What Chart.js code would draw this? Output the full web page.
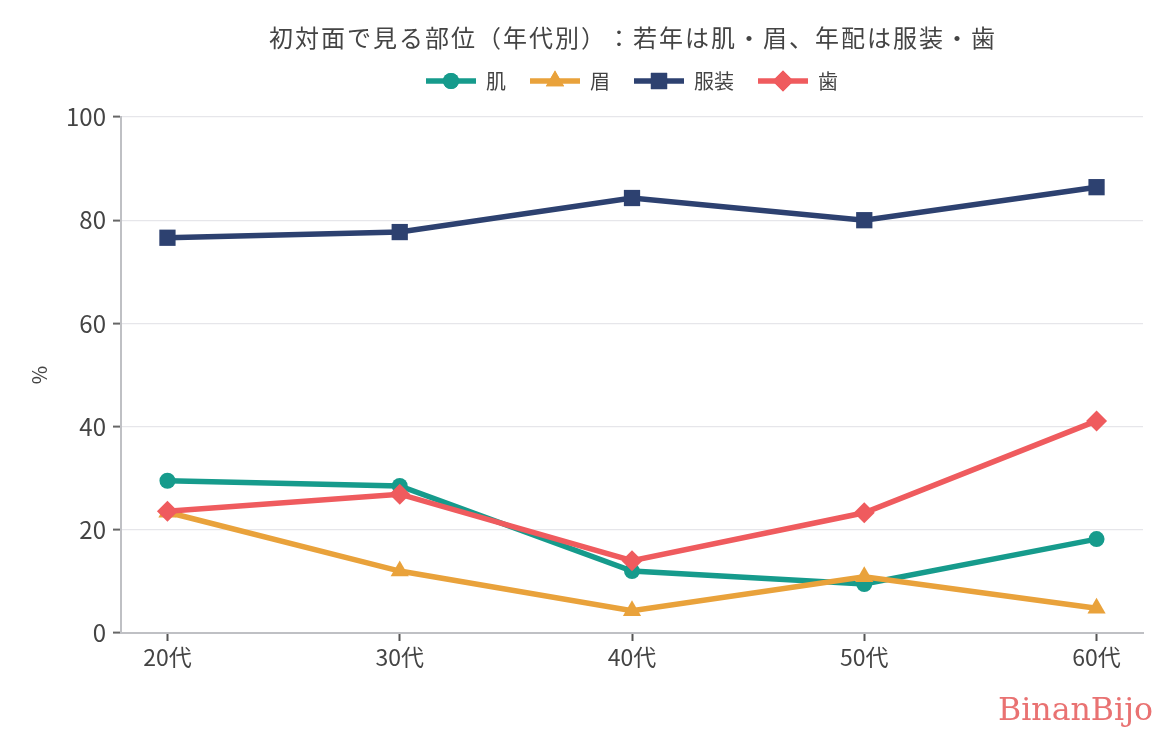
<!DOCTYPE html>
<html lang="ja">
<head>
<meta charset="utf-8">
<title>初対面で見る部位（年代別）</title>
<script src="https://cdn.jsdelivr.net/npm/chart.js@4.4.1/dist/chart.umd.min.js"></script>
<style>
  html, body { margin: 0; padding: 0; background: #ffffff; }
  #wrap { width: 1170px; height: 735px; }
</style>
</head>
<body>
<div id="wrap"><canvas id="c" width="1170" height="735"></canvas></div>
<script>
const titleText = '初対面で見る部位（年代別）：若年は肌・眉、年配は服装・歯';
const categories = ['20代', '30代', '40代', '50代', '60代'];
const seriesNames = ['肌', '眉', '服装', '歯'];
const skin    = [29.5, 28.5, 12.0, 9.5, 18.2];
const brow    = [23.4, 12.0, 4.3, 10.9, 4.8];
const clothes = [76.6, 77.7, 84.3, 80.0, 86.4];
const teeth   = [23.6, 26.9, 14.0, 23.3, 41.1];
const yTicks  = [0, 20, 40, 60, 80, 100];
const yTitle  = '%';
const watermark = 'BinanBijo';

const colors = ['#169b8c', '#e9a23b', '#2d4170', '#ef5b5e'];
const styles = ['circle', 'triangle', 'rect', 'rectRot'];
const radii  = [8, 10.5, 11.5, 10.5];
const values = [skin, brow, clothes, teeth];
const orders = [4, 3, 2, 1];

const FONT = '"Noto Sans CJK JP", "Noto Sans", sans-serif';
const TEXT = '#444444';

function legendMarker(color, style, r) {
  const cv = document.createElement('canvas');
  cv.width = 50; cv.height = 22;
  const g = cv.getContext('2d');
  g.strokeStyle = color; g.lineWidth = 5.5;
  g.beginPath(); g.moveTo(0, 11); g.lineTo(50, 11); g.stroke();
  g.fillStyle = color;
  Chart.helpers.drawPoint(g, { pointStyle: style, radius: r, rotation: 0, borderWidth: 0 }, 25, 11);
  g.fill();
  return cv;
}

const datasets = seriesNames.map((name, i) => ({
  label: name,
  data: values[i].map((v, j) => ({ x: j, y: v })),
  borderColor: colors[i],
  backgroundColor: colors[i],
  borderWidth: 5.5,
  pointStyle: styles[i],
  pointRadius: radii[i],
  pointHoverRadius: radii[i],
  pointBorderWidth: 0,
  pointBackgroundColor: colors[i],
  tension: 0,
  order: orders[i]
}));

function drawSpacedText(ctx, text, cx, cy, targetWidth) {
  const chars = Array.from(text);
  const widths = chars.map(c => ctx.measureText(c).width);
  const total = widths.reduce((a, b) => a + b, 0);
  const extra = (targetWidth - total) / (chars.length - 1);
  let x = cx - targetWidth / 2;
  ctx.textAlign = 'left';
  chars.forEach((c, i) => {
    ctx.fillText(c, x, cy);
    x += widths[i] + extra;
  });
}

const extras = {
  id: 'extras',
  beforeLayout(chart) {
    const lg = chart.legend;
    if (lg && !lg.__patched) {
      const orig = lg.fit;
      lg.fit = function () { orig.call(this); this.height += 16; };
      lg.__patched = true;
    }
  },
  afterDraw(chart) {
    const ctx = chart.ctx;
    const ca = chart.chartArea;
    ctx.save();
    ctx.fillStyle = TEXT;
    ctx.font = '24px ' + FONT;
    ctx.textBaseline = 'middle';
    drawSpacedText(ctx, titleText, (ca.left + ca.right) / 2, 38, 726);
    // watermark
    const wf = '"DejaVu Serif", "Liberation Serif", serif';
    ctx.font = '32px ' + wf;
    const w = ctx.measureText(watermark).width;
    const size = 32 * 155 / w;
    ctx.font = size.toFixed(1) + 'px ' + wf;
    ctx.fillStyle = '#e97272';
    ctx.textAlign = 'right';
    ctx.textBaseline = 'alphabetic';
    ctx.fillText(watermark, 1153, 720);
    ctx.restore();
  }
};

new Chart(document.getElementById('c'), {
  type: 'line',
  data: { datasets },
  plugins: [extras],
  options: {
    responsive: false,
    devicePixelRatio: 1,
    animation: false,
    events: [],
    layout: { padding: { top: 47, left: 0, right: 27, bottom: 0 } },
    plugins: {
      title: { display: false },
      tooltip: { enabled: false },
      legend: {
        display: true,
        position: 'top',
        fullSize: false,
        labels: {
          usePointStyle: true,
          pointStyleWidth: 50,
          padding: 24,
          color: TEXT,
          font: { family: FONT, size: 20 },
          generateLabels(chart) {
            return chart.data.datasets.map((ds, i) => ({
              text: ds.label,
              fillStyle: colors[i],
              strokeStyle: colors[i],
              lineWidth: 0,
              fontColor: TEXT,
              pointStyle: legendMarker(colors[i], styles[i], radii[i]),
              hidden: false,
              datasetIndex: i
            }));
          }
        }
      }
    },
    scales: {
      x: {
        type: 'linear',
        min: -0.2,
        max: categories.length - 1 + 0.2,
        afterBuildTicks(scale) { scale.ticks = categories.map((c, i) => ({ value: i })); },
        afterFit(scale) { scale.height = 102; },
        ticks: {
          color: TEXT,
          font: { family: FONT, size: 23 },
          padding: 2,
          maxRotation: 0,
          autoSkip: false,
          callback: (v) => categories[v]
        },
        grid: { drawOnChartArea: false, drawTicks: true, tickLength: 8, tickColor: '#555555', tickWidth: 2 },
        border: { display: true, color: '#bfc0c4', width: 2 }
      },
      y: {
        type: 'linear',
        min: 0,
        max: 100,
        afterBuildTicks(scale) { scale.ticks = yTicks.map(v => ({ value: v })); },
        afterFit(scale) { scale.width = 121; },
        ticks: {
          color: TEXT,
          font: { family: FONT, size: 24 },
          padding: 7
        },
        title: {
          display: true,
          text: yTitle,
          color: TEXT,
          font: { family: FONT, size: 20 },
          padding: { top: 27, bottom: 0 }
        },
        grid: { color: '#e6e6ea', lineWidth: 1.2, drawTicks: true, tickLength: 8, tickColor: '#666666', tickWidth: 2 },
        border: { display: true, color: '#bfc0c4', width: 2 }
      }
    }
  }
});
</script>
</body>
</html>
